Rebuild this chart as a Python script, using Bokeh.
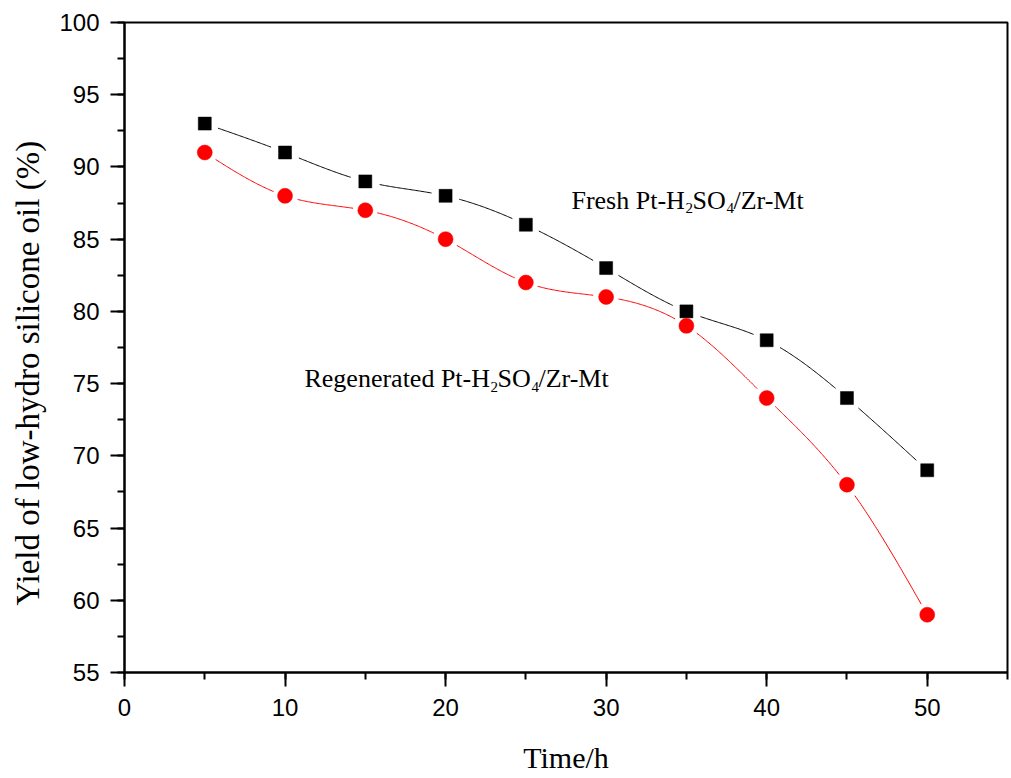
import numpy as np
from bokeh.plotting import figure
from bokeh.models import Range1d, SingleIntervalTicker, Title
from bokeh.core.properties import value
from bokeh.embed import file_html
from bokeh.resources import INLINE

# ---- data ----
time_h = [5, 10, 15, 20, 25, 30, 35, 40, 45, 50]
fresh_yield = [93, 91, 89, 88, 86, 83, 80, 78, 74, 69]
regen_yield = [91, 88, 87, 85, 82, 81, 79, 74, 68, 59]

x_label = "Time/h"
y_label = "Yield of low-hydro silicone oil (%)"
fresh_parts = ["Fresh Pt-H", "2", "SO", "4", "/Zr-Mt"]
regen_parts = ["Regenerated Pt-H", "2", "SO", "4", "/Zr-Mt"]

X_START, X_END = 0, 55
Y_START, Y_END = 55, 100
FRAME_W, FRAME_H = 883, 650

p = figure(frame_width=FRAME_W, frame_height=FRAME_H,
           x_range=Range1d(X_START, X_END), y_range=Range1d(Y_START, Y_END),
           output_backend="svg", toolbar_location=None,
           min_border_left=123, min_border_right=5, min_border_top=22, min_border_bottom=106)
p.background_fill_color = "white"
p.border_fill_color = "white"
p.grid.visible = False
p.outline_line_color = "black"
p.outline_line_width = 2

p.xaxis.ticker = SingleIntervalTicker(interval=10, num_minor_ticks=2)
p.yaxis.ticker = SingleIntervalTicker(interval=5, num_minor_ticks=2)
for ax in (p.xaxis[0], p.yaxis[0]):
    ax.axis_line_width = 2
    ax.axis_line_color = "black"
    ax.major_tick_line_width = 2
    ax.minor_tick_line_width = 2
    ax.major_tick_in = 0
    ax.major_tick_out = 14
    ax.minor_tick_in = 0
    ax.minor_tick_out = 7
    ax.major_label_text_font = "Liberation Sans"
    ax.major_label_text_font_size = "24px"
    ax.major_label_text_color = "black"
    ax.axis_label_text_font = "Liberation Serif"
    ax.axis_label_text_font_style = "normal"
    ax.axis_label_text_color = "black"
p.xaxis.axis_label = x_label
p.xaxis.axis_label_text_font_size = "30px"
p.xaxis.major_label_standoff = 12
p.yaxis.major_label_standoff = 11
p.xaxis.axis_label_standoff = 22

# y-axis title, placed as in the reference (starting a little above the frame bottom)
p.add_layout(Title(text=y_label, align="left", offset=67, standoff=18, vertical_align="top",
                   text_font="Liberation Serif", text_font_size="33px",
                   text_font_style="normal", text_color="black"), "left")

# ---- smooth connecting curves (natural cubic spline) with gaps at markers ----
def natural_spline(x, y, n=600):
    x = np.asarray(x, float); y = np.asarray(y, float)
    k = len(x); h = np.diff(x)
    A = np.zeros((k, k)); b = np.zeros(k)
    A[0, 0] = A[-1, -1] = 1
    for i in range(1, k - 1):
        A[i, i - 1] = h[i - 1]; A[i, i] = 2 * (h[i - 1] + h[i]); A[i, i + 1] = h[i]
        b[i] = 3 * ((y[i + 1] - y[i]) / h[i] - (y[i] - y[i - 1]) / h[i - 1])
    c = np.linalg.solve(A, b)
    bb = (y[1:] - y[:-1]) / h - h * (2 * c[:-1] + c[1:]) / 3
    d = (c[1:] - c[:-1]) / (3 * h)
    xs = np.linspace(x[0], x[-1], n)
    idx = np.clip(np.searchsorted(x, xs, side="right") - 1, 0, k - 2)
    dx = xs - x[idx]
    ys = y[idx] + bb[idx] * dx + c[idx] * dx ** 2 + d[idx] * dx ** 3
    return xs, ys

px_x = FRAME_W / (X_END - X_START)
px_y = FRAME_H / (Y_END - Y_START)

def gapped_curve(x, y, r):
    xs, ys = natural_spline(x, y)
    mx = np.asarray(x, float); my = np.asarray(y, float)
    dist = np.min(np.hypot((xs[:, None] - mx[None, :]) * px_x,
                           (ys[:, None] - my[None, :]) * px_y), axis=1)
    ys = ys.copy()
    ys[dist < r] = np.nan
    return xs, ys

fx, fy = gapped_curve(time_h, fresh_yield, 14)
rx, ry = gapped_curve(time_h, regen_yield, 12)
p.line(fx, fy, line_color="black", line_width=1)
p.line(rx, ry, line_color="red", line_width=1)

p.scatter(time_h, fresh_yield, marker="square", size=13, fill_color="black", line_color="black", line_width=0.5)
p.scatter(time_h, regen_yield, marker="circle", size=15, fill_color="red", line_color="red", line_width=0.5)

# ---- annotations with subscripts ----
def add_formula(parts, x0, y0, offsets):
    sizes = ["26px", "15px", "26px", "15px", "26px"]
    yoffs = [0, 8, 0, 8, 0]
    for t, xo, yo, s in zip(parts, offsets, yoffs, sizes):
        p.text(x=[x0], y=[y0], text=[t], x_offset=xo, y_offset=yo,
               text_font=value("Liberation Serif"), text_font_size=value(s),
               text_color="black", text_baseline="alphabetic", text_align="left")

add_formula(fresh_parts, 27.84, 87.68, [0, 114, 121, 155, 162])
add_formula(regen_parts, 11.21, 75.35, [0, 186, 193, 227, 234])

open("out.html", "w").write(file_html(p, INLINE))
